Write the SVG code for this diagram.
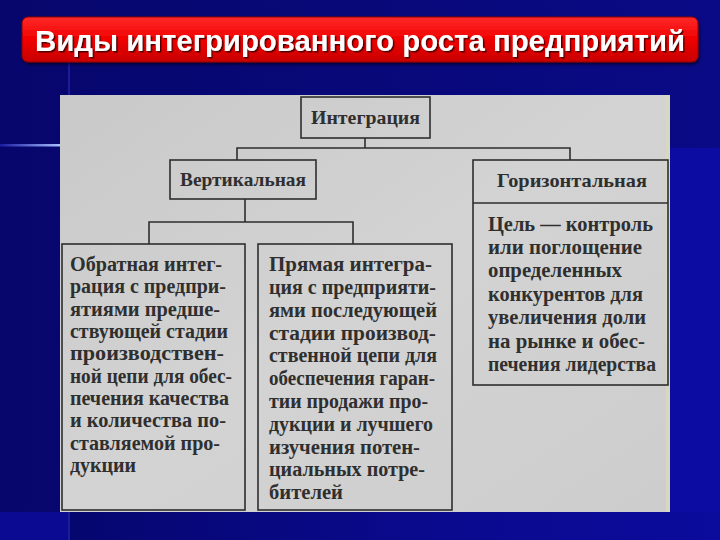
<svg xmlns="http://www.w3.org/2000/svg" width="720" height="540" viewBox="0 0 720 540">
<defs>
<linearGradient id="bg" x1="0" y1="0" x2="1" y2="0">
<stop offset="0" stop-color="#06066c"/>
<stop offset="1" stop-color="#0a0a86"/>
</linearGradient>
<linearGradient id="bottom" x1="0" y1="0" x2="1" y2="0">
<stop offset="0" stop-color="#05056a"/>
<stop offset="0.6" stop-color="#0a0a8e"/>
<stop offset="1" stop-color="#0b0b9c"/>
</linearGradient>
<linearGradient id="red" x1="0" y1="0" x2="0" y2="1">
<stop offset="0" stop-color="#ff2a2a"/>
<stop offset="0.5" stop-color="#f00000"/>
<stop offset="1" stop-color="#c80000"/>
</linearGradient>
<linearGradient id="hline" x1="0" y1="0" x2="1" y2="0">
<stop offset="0" stop-color="#1a1aa0"/>
<stop offset="1" stop-color="#a8c0ff"/>
</linearGradient>
<linearGradient id="paper" x1="0" y1="0" x2="1" y2="1">
<stop offset="0" stop-color="#c9c9c9"/>
<stop offset="0.5" stop-color="#d3d3d3"/>
<stop offset="1" stop-color="#cdcdcd"/>
</linearGradient>
<filter id="shadow" x="-5%" y="-20%" width="110%" height="150%">
<feDropShadow dx="1.5" dy="1.5" stdDeviation="0.6" flood-color="#400000" flood-opacity="0.9"/>
</filter>
<filter id="barshadow" x="-5%" y="-20%" width="110%" height="160%">
<feDropShadow dx="1" dy="2" stdDeviation="1.5" flood-color="#000020" flood-opacity="0.8"/>
</filter>
</defs>
<style>
.box{fill:none;stroke:#2e2e2e;stroke-width:1.6}
.conn{fill:none;stroke:#2e2e2e;stroke-width:1.6}
.t{font-family:"Liberation Serif","Times New Roman",serif;font-weight:bold;font-size:20px;fill:#2f2f2f}
.h{font-family:"Liberation Serif","Times New Roman",serif;font-weight:bold;font-size:19px;fill:#2f2f2f}
.title{font-family:"Liberation Sans",Arial,sans-serif;font-weight:bold;font-size:29px;fill:#ffffff}
</style>
<!-- background -->
<rect x="0" y="0" width="720" height="540" fill="url(#bg)"/>
<rect x="670" y="148" width="50" height="392" fill="#0c0ca2"/>
<rect x="0" y="512" width="720" height="28" fill="url(#bottom)"/>
<rect x="0" y="512" width="68" height="28" fill="#0a0a92"/>
<line x1="69" y1="62" x2="69" y2="540" stroke="#2424a8" stroke-width="1.5"/>
<rect x="0" y="144" width="60" height="2.5" fill="url(#hline)"/>
<!-- title -->
<g id="title">
<rect x="22" y="17" width="676" height="45" rx="6" fill="url(#red)" stroke="#8a0000" stroke-width="1" filter="url(#barshadow)"/>
<text class="title" x="360" y="51" text-anchor="middle" textLength="650" lengthAdjust="spacingAndGlyphs" filter="url(#shadow)">Виды интегрированного роста предприятий</text>
</g>
<!-- paper panel -->
<rect x="60" y="95" width="610" height="417" fill="url(#paper)"/>
<rect x="666" y="95" width="4" height="417" fill="#d8d8c0"/>
<!-- connectors -->
<g id="connectors">
<polyline class="conn" points="365,138 365,148"/>
<polyline class="conn" points="237,160 237,148 570,148 570,160"/>
<polyline class="conn" points="245,199 245,222"/>
<polyline class="conn" points="149,244 149,222 353,222 353,244"/>
</g>
<g id="integration">
<rect class="box" x="301" y="97" width="129" height="41"/>
<text class="h" x="311" y="124" textLength="109" lengthAdjust="spacingAndGlyphs">Интеграция</text>
</g>
<g id="vertical">
<rect class="box" x="170" y="160" width="146" height="39"/>
<text class="h" x="180" y="186" textLength="126" lengthAdjust="spacingAndGlyphs">Вертикальная</text>
</g>
<g id="horizontal">
<rect class="box" x="473" y="160" width="195" height="225"/>
<line class="box" x1="473" y1="203" x2="668" y2="203"/>
<text class="h" x="497" y="187" textLength="150" lengthAdjust="spacingAndGlyphs">Горизонтальная</text>
<text class="t" x="488" y="231" textLength="165" lengthAdjust="spacingAndGlyphs">Цель — контроль</text>
<text class="t" x="488" y="254" textLength="154" lengthAdjust="spacingAndGlyphs">или поглощение</text>
<text class="t" x="488" y="277" textLength="134" lengthAdjust="spacingAndGlyphs">определенных</text>
<text class="t" x="488" y="301" textLength="155" lengthAdjust="spacingAndGlyphs">конкурентов для</text>
<text class="t" x="488" y="324" textLength="158" lengthAdjust="spacingAndGlyphs">увеличения доли</text>
<text class="t" x="488" y="348" textLength="157" lengthAdjust="spacingAndGlyphs">на рынке и обес-</text>
<text class="t" x="488" y="371" textLength="168" lengthAdjust="spacingAndGlyphs">печения лидерства</text>
</g>
<g id="backward">
<rect class="box" x="62" y="244" width="183" height="266"/>
<text class="t" x="70" y="271" textLength="152" lengthAdjust="spacingAndGlyphs">Обратная интег-</text>
<text class="t" x="70" y="293" textLength="156" lengthAdjust="spacingAndGlyphs">рация с предпри-</text>
<text class="t" x="70" y="316" textLength="150" lengthAdjust="spacingAndGlyphs">ятиями предше-</text>
<text class="t" x="70" y="338" textLength="158" lengthAdjust="spacingAndGlyphs">ствующей стадии</text>
<text class="t" x="70" y="360" textLength="154" lengthAdjust="spacingAndGlyphs">производствен-</text>
<text class="t" x="70" y="383" textLength="162" lengthAdjust="spacingAndGlyphs">ной цепи для обес-</text>
<text class="t" x="70" y="405" textLength="159" lengthAdjust="spacingAndGlyphs">печения качества</text>
<text class="t" x="70" y="427" textLength="156" lengthAdjust="spacingAndGlyphs">и количества по-</text>
<text class="t" x="70" y="450" textLength="150" lengthAdjust="spacingAndGlyphs">ставляемой про-</text>
<text class="t" x="70" y="472" textLength="66" lengthAdjust="spacingAndGlyphs">дукции</text>
</g>
<g id="forward">
<rect class="box" x="258" y="244" width="194" height="266"/>
<text class="t" x="269" y="271" textLength="163" lengthAdjust="spacingAndGlyphs">Прямая интегра-</text>
<text class="t" x="269" y="294" textLength="167" lengthAdjust="spacingAndGlyphs">ция с предприяти-</text>
<text class="t" x="269" y="317" textLength="168" lengthAdjust="spacingAndGlyphs">ями последующей</text>
<text class="t" x="269" y="340" textLength="167" lengthAdjust="spacingAndGlyphs">стадии производ-</text>
<text class="t" x="269" y="362" textLength="168" lengthAdjust="spacingAndGlyphs">ственной цепи для</text>
<text class="t" x="269" y="385" textLength="166" lengthAdjust="spacingAndGlyphs">обеспечения гаран-</text>
<text class="t" x="269" y="408" textLength="159" lengthAdjust="spacingAndGlyphs">тии продажи про-</text>
<text class="t" x="269" y="431" textLength="164" lengthAdjust="spacingAndGlyphs">дукции и лучшего</text>
<text class="t" x="269" y="454" textLength="151" lengthAdjust="spacingAndGlyphs">изучения потен-</text>
<text class="t" x="269" y="476" textLength="156" lengthAdjust="spacingAndGlyphs">циальных потре-</text>
<text class="t" x="269" y="499" textLength="74" lengthAdjust="spacingAndGlyphs">бителей</text>
</g>
</svg>
